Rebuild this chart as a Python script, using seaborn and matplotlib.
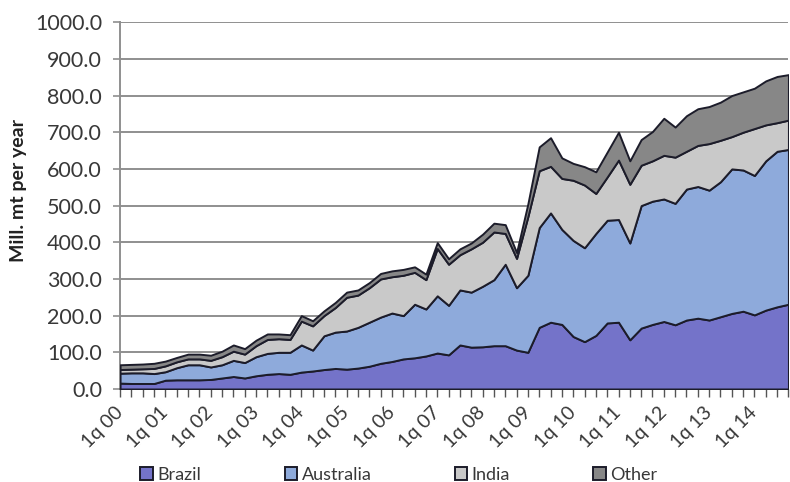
import numpy as np
import pandas as pd
import matplotlib
matplotlib.use("Agg")
import matplotlib.pyplot as plt
import seaborn as sns

# Quarterly iron ore import volumes, 1q 00 .. 4q 14 (Mill. mt per year)
years = list(range(2000, 2015))
quarters = [f"{q}q {y % 100:02d}" for y in years for q in range(1, 5)]

brazil = [16, 15, 15, 15, 24, 25, 25, 25, 26, 30, 34, 30, 36, 40, 42, 40,
          46, 49, 53, 56, 54, 57, 62, 70, 75, 82, 85, 90, 98, 93, 120, 114,
          115, 118, 118, 106, 100, 168, 182, 176, 143, 129, 146, 180, 182, 134, 166, 176,
          184, 175, 188, 193, 188, 197, 206, 212, 202, 215, 224, 231]
australia = [27, 29, 29, 27, 23, 33, 41, 41, 34, 36, 44, 42, 52, 57, 58, 60,
             74, 57, 92, 99, 104, 111, 120, 126, 132, 118, 146, 128, 156, 135, 150, 150,
             165, 180, 222, 170, 210, 272, 298, 259, 262, 256, 278, 280, 280, 264, 334, 336,
             334, 331, 357, 359, 354, 368, 394, 385, 380, 407, 424, 422]
india = [10, 10, 11, 14, 16, 16, 16, 16, 18, 22, 25, 23, 30, 38, 37, 35,
         65, 66, 55, 67, 92, 88, 94, 104, 99, 110, 87, 80, 129, 112, 96, 118,
         120, 130, 84, 80, 160, 155, 127, 139, 164, 171, 109, 118, 162, 160, 110, 110,
         119, 126, 103, 112, 127, 113, 88, 103, 128, 98, 78, 80]
other = [13, 13, 13, 14, 13, 12, 13, 13, 14, 15, 17, 15, 15, 15, 13, 13,
         15, 14, 13, 14, 14, 14, 14, 15, 16, 16, 15, 15, 16, 15, 16, 16,
         22, 24, 24, 16, 35, 65, 78, 56, 46, 50, 59, 68, 76, 64, 70, 80,
         101, 82, 97, 100, 101, 104, 112, 110, 110, 120, 126, 124]

series_names = ["Brazil", "Australia", "India", "Other"]
colors = ["#7473c9", "#8eaadb", "#c9c9c9", "#878787"]

df = pd.DataFrame({"quarter": quarters, "Brazil": brazil, "Australia": australia,
                   "India": india, "Other": other})
x = np.arange(len(df))

sns.set_theme(style="whitegrid")
plt.rcParams["font.family"] = ["Lato", "DejaVu Sans"]

fig = plt.figure(figsize=(7.9, 4.82), dpi=100)
ax = fig.add_axes([0.152, 0.193, 0.846, 0.761])

ax.stackplot(x, *[df[n] for n in series_names], colors=colors, labels=series_names,
             edgecolor="#1c1c2a", linewidth=1.4, zorder=3)

ax.set_xlim(0, len(df) - 1)
ax.set_ylim(0, 1000)
ax.set_yticks(np.arange(0, 1001, 100))
ax.set_yticklabels([f"{v:.1f}" for v in np.arange(0, 1001, 100)], fontsize=15.5, color="#383838")

ax.set_xticks(x)
ax.set_xticklabels([q if i % 4 == 0 else "" for i, q in enumerate(quarters)],
                   rotation=45, ha="right", va="center", rotation_mode="anchor",
                   fontsize=14, color="#383838")

ax.grid(axis="y", color="#8f8f8f", linewidth=1.4)
ax.grid(axis="x", visible=False)
ax.set_facecolor("white")
for side in ["top", "right"]:
    ax.spines[side].set_visible(False)
ax.spines["left"].set_color("#8f8f8f")
ax.spines["left"].set_linewidth(1.4)
ax.spines["bottom"].set_color("#555555")
ax.spines["bottom"].set_linewidth(1.2)
ax.tick_params(axis="y", length=5, width=1.2, color="#8f8f8f", left=True, pad=8)
ax.tick_params(axis="x", length=6, width=1.0, color="#555555", bottom=True, pad=9)

ax.set_ylabel("Mill. mt per year", fontsize=14, fontweight="bold", color="#222222")
ax.yaxis.set_label_coords(-0.139, 0.542)

handles, labels = ax.get_legend_handles_labels()
fig.legend(handles, labels, loc="lower center", bbox_to_anchor=(0.505, -0.035), ncol=4,
           frameon=False, fontsize=13, handlelength=0.7, handleheight=0.7,
           handletextpad=0.25, columnspacing=4.6, labelcolor="#383838")

fig.savefig("out.png", dpi=100, facecolor="white")
